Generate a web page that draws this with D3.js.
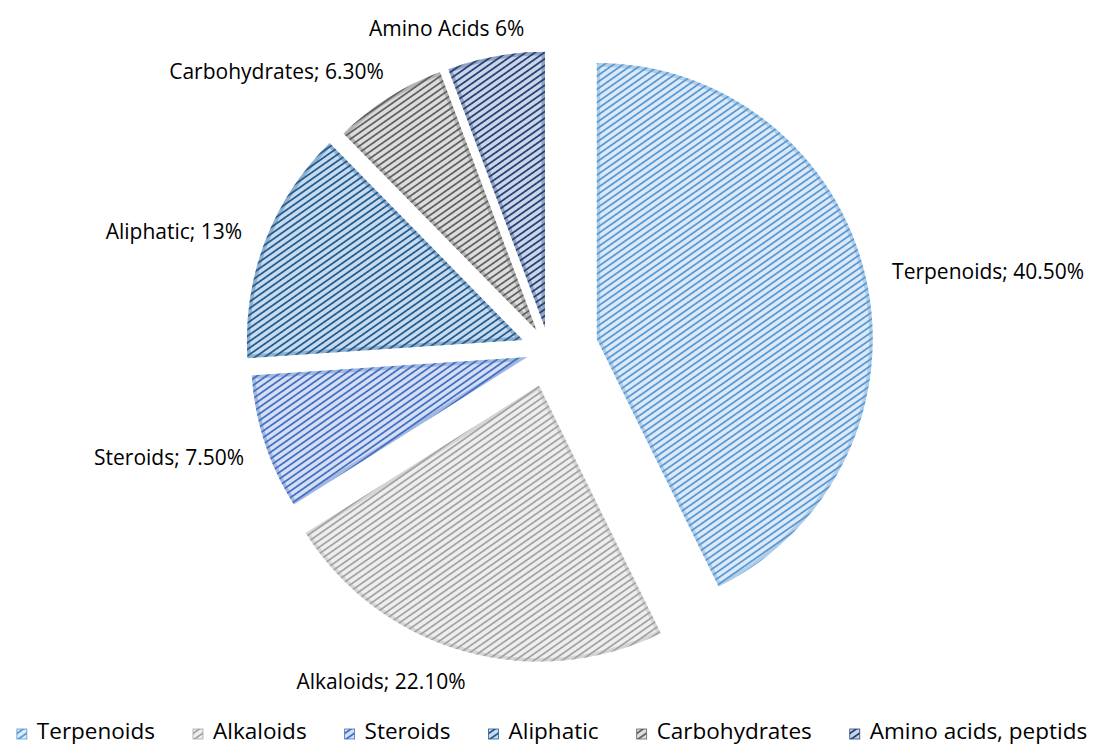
<!DOCTYPE html>
<html><head><meta charset="utf-8">
<script src="https://cdn.jsdelivr.net/npm/d3@7"></script>
<style>body{margin:0;background:#fff}svg{display:block}text{font-family:"Open Sans",sans-serif;fill:#000}</style>
</head><body>
<svg id="chart" width="1104" height="747"></svg>
<script>
// ---- data ----
const categories = ["Terpenoids","Alkaloids","Steroids","Aliphatic","Carbohydrates","Amino acids, peptids"];
const values = [40.5, 22.1, 7.5, 13, 6.3, 5.4];
const dataLabels = ["Terpenoids; 40.50%","Alkaloids; 22.10%","Steroids; 7.50%","Aliphatic; 13%","Carbohydrates; 6.30%","Amino Acids 6%"];

// ---- styles / layout ----
const stripeColors = ["#5b9bd5","#a5a5a5","#4472c4","#255e91","#636363","#264478"];
const bgColors = ["#dde9f6","#eeeeee","#d5def2","#c8daee","#dddddd","#ccd5e7"];
const explode = [49, 37, 23, 28, 23, 22.5];
const labelNudge = [[9,1],[-78,3],[-3.5,11],[-6,-2],[5,-9.5],[-46,-2.5]];
const W = 1104, H = 747, cx = 549, cy = 350, R = 276;

const svg = d3.select("#chart");
const defs = svg.append("defs");
categories.forEach((c,i)=>{
  const p = defs.append("pattern").attr("id","pat"+i).attr("patternUnits","userSpaceOnUse")
    .attr("width",8).attr("height",5.4).attr("patternTransform","rotate(-35)");
  p.append("rect").attr("width",8).attr("height",5.4).attr("fill",bgColors[i]);
  p.append("rect").attr("y",0).attr("width",8).attr("height",1.8).attr("fill",stripeColors[i]);
});

const pie = d3.pie().sort(null).value(d=>d)(values);
const arc = d3.arc().innerRadius(0).outerRadius(R);
const g = svg.append("g").attr("transform",`translate(${cx},${cy})`);

pie.forEach((d,i)=>{
  const mid = (d.startAngle+d.endAngle)/2;
  const sx = Math.sin(mid), sy = -Math.cos(mid);
  const dx = sx*explode[i], dy = sy*explode[i];
  const sg = g.append("g").attr("transform",`translate(${dx},${dy})`);
  const path = arc(d);
  defs.append("clipPath").attr("id","clip"+i).append("path").attr("d",path);
  sg.append("path").attr("d",path).attr("fill",`url(#pat${i})`);
  sg.append("path").attr("d",path).attr("fill","none").attr("stroke",stripeColors[i])
    .attr("stroke-width",7).attr("stroke-opacity",0.35).attr("clip-path",`url(#clip${i})`);
  // data label
  const lr = R + 18;
  const lx = dx + sx*lr, ly = dy + sy*lr;
  const anchor = sx > 0.3 ? "start" : (sx < -0.3 ? "end" : "middle");
  let base = "middle";
  if (anchor === "middle") base = sy > 0 ? "hanging" : "auto";
  g.append("text").attr("x",lx+labelNudge[i][0]).attr("y",ly+labelNudge[i][1])
    .attr("text-anchor",anchor).attr("dominant-baseline",base)
    .attr("font-size",21).text(dataLabels[i]);
});

// legend
const leg = svg.append("g");
let x = 0; const gap = 38, box = 10, pad = 10;
categories.forEach((c,i)=>{
  const it = leg.append("g");
  it.append("rect").attr("width",box).attr("height",box).attr("y",-10).attr("fill",`url(#pat${i})`)
    .attr("stroke",stripeColors[i]).attr("stroke-width",0.8);
  const t = it.append("text").attr("x",box+pad).attr("font-size",22.5).text(c);
  const w = box+pad+t.node().getComputedTextLength();
  it.attr("transform",`translate(${x},0)`);
  x += w + gap;
});
const total = x - gap;
leg.attr("transform",`translate(${(W-total)/2},739)`);
</script>
</body></html>
